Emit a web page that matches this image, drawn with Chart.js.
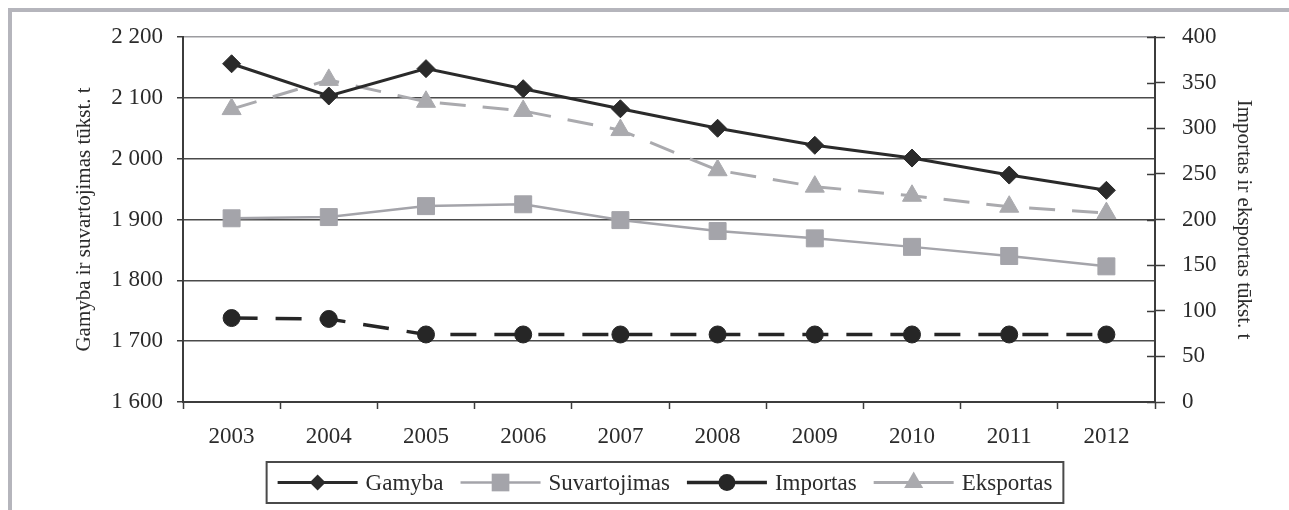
<!DOCTYPE html>
<html>
<head>
<meta charset="utf-8">
<script src="https://cdn.jsdelivr.net/npm/chart.js@4.4.1/dist/chart.umd.min.js"></script>
<style>
  html, body { margin: 0; padding: 0; background: #fff; overflow: hidden; }
  body { width: 1289px; height: 510px; position: relative; }
  #frame { position: absolute; left: 8px; top: 8px; width: 1400px; height: 600px; border: 4px solid #b5b5bc; box-sizing: border-box; }
  #chart { position: absolute; left: 0; top: 0; }
</style>
</head>
<body>
<div id="frame"></div>
<canvas id="chart" width="1289" height="510"></canvas>
<script>
const years = ["2003", "2004", "2005", "2006", "2007", "2008", "2009", "2010", "2011", "2012"];
const gamyba = [2156, 2103, 2148, 2115, 2082, 2050, 2022, 2001, 1973, 1948];
const suvartojimas = [1902, 1904, 1922, 1925, 1899, 1881, 1869, 1855, 1840, 1823];
const importas = [92, 91, 74, 74, 74, 74, 74, 74, 74, 74];
const eksportas = [321, 353, 329, 319, 298, 254, 236, 226, 214, 207];
const leftTicks = [1600, 1700, 1800, 1900, 2000, 2100, 2200];
const rightTicks = [0, 50, 100, 150, 200, 250, 300, 350, 400];

const FONT = '"Liberation Serif", "Times New Roman", serif';
const TEXT = "#2b2b2b";
const AXIS = "#3c3c3c";

function spaced(v) {
    if (v < 1000) return String(v);
    const rest = String(v % 1000).padStart(3, "0");
    return Math.floor(v / 1000) + " " + rest;
}

function marker(ctx, style, x, y, r) {
    ctx.beginPath();
    if (style === "rectRot") {
        ctx.moveTo(x - r, y); ctx.lineTo(x, y - r); ctx.lineTo(x + r, y); ctx.lineTo(x, y + r);
    } else if (style === "rect") {
        const h = r * Math.SQRT1_2;
        ctx.rect(x - h, y - h, 2 * h, 2 * h);
    } else if (style === "triangle") {
        ctx.moveTo(x, y - r);
        ctx.lineTo(x + r * Math.sin(2 * Math.PI / 3), y - r * Math.cos(2 * Math.PI / 3));
        ctx.lineTo(x + r * Math.sin(4 * Math.PI / 3), y - r * Math.cos(4 * Math.PI / 3));
    } else {
        ctx.arc(x, y, r, 0, Math.PI * 2);
    }
    ctx.closePath();
    ctx.fill();
}

// legend in a box, line + marker like the original
const boxLegend = {
    id: "boxLegend",
    afterDraw(chart) {
        const ctx = chart.ctx;
        ctx.save();
        ctx.font = "23px " + FONT;
        const lineLen = 80, textGap = 8, itemGap = 17, padX = 11;
        const sets = chart.data.datasets;
        let total = 0;
        sets.forEach((ds, i) => {
            total += lineLen + textGap + ctx.measureText(ds.label).width;
            if (i) total += itemGap;
        });
        const boxW = total + padX * 2;
        const boxL = 665 - boxW / 2, boxT = 462, boxH = 41;
        const cy = boxT + boxH / 2;

        ctx.strokeStyle = "#4a4a4a";
        ctx.lineWidth = 2;
        ctx.strokeRect(boxL, boxT, boxW, boxH);

        let x = boxL + padX;
        sets.forEach(ds => {
            ctx.strokeStyle = ds.borderColor;
            ctx.lineWidth = ds.borderWidth;
            ctx.setLineDash([]);
            ctx.beginPath();
            ctx.moveTo(x, cy);
            ctx.lineTo(x + lineLen, cy);
            ctx.stroke();
            ctx.fillStyle = ds.pointBackgroundColor;
            marker(ctx, ds.pointStyle, x + lineLen / 2, cy, ds.legendRadius);
            x += lineLen + textGap;
            ctx.fillStyle = TEXT;
            ctx.textBaseline = "middle";
            ctx.textAlign = "left";
            ctx.fillText(ds.label, x, cy + 1);
            x += ctx.measureText(ds.label).width + itemGap;
        });
        ctx.restore();
    }
};

// right axis tick marks also cross into the plot
const innerTicks = {
    id: "innerTicks",
    afterDraw(chart) {
        const s = chart.scales.y1;
        const ctx = chart.ctx;
        ctx.save();
        ctx.strokeStyle = AXIS;
        ctx.lineWidth = 1.5;
        s.ticks.forEach(t => {
            const y = Math.round(s.getPixelForValue(t.value)) + 0.5;
            ctx.beginPath();
            ctx.moveTo(s.left - 8, y);
            ctx.lineTo(s.left, y);
            ctx.stroke();
        });
        ctx.restore();
    }
};

new Chart(document.getElementById("chart"), {
    type: "line",
    data: {
        labels: years,
        datasets: [
            {
                label: "Gamyba", data: gamyba, yAxisID: "y",
                borderColor: "#2a2a2a", borderWidth: 3,
                pointStyle: "rectRot", pointRadius: 9, legendRadius: 8,
                pointBackgroundColor: "#2a2a2a", pointBorderColor: "#2a2a2a", pointBorderWidth: 1
            },
            {
                label: "Suvartojimas", data: suvartojimas, yAxisID: "y",
                borderColor: "#a4a4aa", borderWidth: 2.5,
                pointStyle: "rect", pointRadius: 12, legendRadius: 12.5,
                pointBackgroundColor: "#a4a4aa", pointBorderColor: "#a4a4aa", pointBorderWidth: 1
            },
            {
                label: "Importas", data: importas, yAxisID: "y1",
                borderColor: "#262626", borderWidth: 3.5, borderDash: [26, 18],
                pointStyle: "circle", pointRadius: 8.5, legendRadius: 8.5,
                pointBackgroundColor: "#262626", pointBorderColor: "#262626", pointBorderWidth: 1
            },
            {
                label: "Eksportas", data: eksportas, yAxisID: "y1",
                borderColor: "#aaaaae", borderWidth: 3, borderDash: [26, 17],
                pointStyle: "triangle", pointRadius: 11, legendRadius: 11,
                pointBackgroundColor: "#aaaaae", pointBorderColor: "#aaaaae", pointBorderWidth: 1
            }
        ]
    },
    options: {
        responsive: false,
        animation: false,
        devicePixelRatio: 1,
        layout: { padding: { top: 37, bottom: 48, left: 0, right: 0 } },
        plugins: { legend: { display: false }, tooltip: { enabled: false } },
        elements: { line: { tension: 0 } },
        scales: {
            x: {
                offset: true,
                grid: { offset: true, drawOnChartArea: false, tickLength: 7, tickColor: AXIS, tickWidth: 1.5 },
                border: { color: AXIS, width: 2 },
                ticks: { color: TEXT, font: { family: FONT, size: 23 }, padding: 14, maxRotation: 0 },
                afterFit(s) { s.height = 60; }
            },
            y: {
                position: "left",
                min: 1600, max: 2200,
                afterBuildTicks(s) { s.ticks = leftTicks.map(v => ({ value: v })); },
                grid: {
                    color: ctx => ctx.tick && ctx.tick.value === 2200 ? "#9c9ca0" : "#4a4a4a",
                    lineWidth: 1.5,
                    tickLength: 6, tickColor: AXIS, tickWidth: 1.5
                },
                border: { color: AXIS, width: 2 },
                ticks: { color: TEXT, font: { family: FONT, size: 23 }, padding: 14, callback: v => spaced(v) },
                title: {
                    display: true, text: "Gamyba ir suvartojimas tūkst. t",
                    color: TEXT, font: { family: FONT, size: 21 }, padding: { top: 72, bottom: 0 }
                },
                afterFit(s) { s.width = 183; }
            },
            y1: {
                position: "right",
                min: 0, max: 400,
                afterBuildTicks(s) { s.ticks = rightTicks.map(v => ({ value: v })); },
                grid: { drawOnChartArea: false, tickLength: 10, tickColor: AXIS, tickWidth: 1.5 },
                border: { color: AXIS, width: 2 },
                ticks: { color: TEXT, font: { family: FONT, size: 23 }, padding: 17 },
                title: {
                    display: true, text: "Importas ir eksportas tūkst. t",
                    color: TEXT, font: { family: FONT, size: 21 }, padding: { top: 33, bottom: 0 }
                },
                afterFit(s) { s.width = 134; }
            }
        }
    },
    plugins: [boxLegend, innerTicks]
});
</script>
</body>
</html>
